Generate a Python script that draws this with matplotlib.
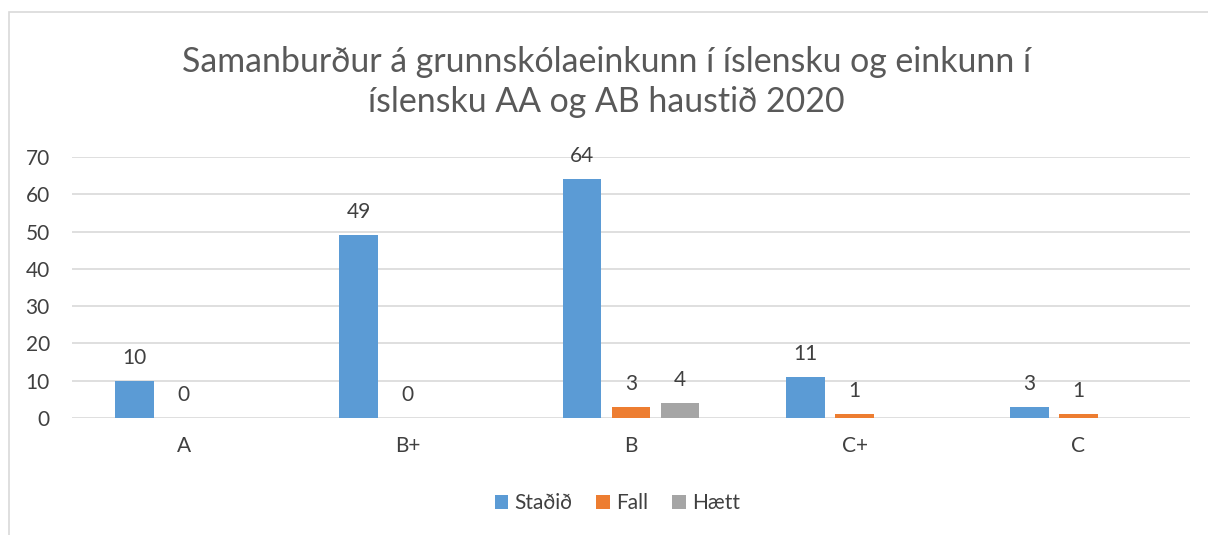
import numpy as np
import matplotlib
matplotlib.use('Agg')
import matplotlib.pyplot as plt
from matplotlib.patches import Rectangle

plt.rcParams['font.family'] = ['Lato', 'DejaVu Sans']

categories = ['A', 'B+', 'B', 'C+', 'C']
stadid = [10, 49, 64, 11, 3]
fall = [0, 0, 3, 1, 1]
haett = [np.nan, np.nan, 4, np.nan, np.nan]
series_names = ['Staðið', 'Fall', 'Hætt']
colors = ['#5B9BD5', '#ED7D31', '#A5A5A5']
title = 'Samanburður á grunnskólaeinkunn í íslensku og einkunn í\níslensku AA og AB haustið 2020'

W, H = 1208, 535
fig = plt.figure(figsize=(W / 100, H / 100), dpi=100)
fig.patches.append(Rectangle((9 / W, -0.1), 1.2, (H - 12) / H + 0.1,
                             transform=fig.transFigure, fill=False,
                             edgecolor='#D9D9D9', linewidth=1.2))

ax = fig.add_axes([72 / W, 117 / H, (1190 - 72) / W, (418 - 157) / H])

x = np.arange(len(categories))
width = 0.174
step = 0.219
txt = '#404040'
fs = 15
for i, (vals, name, c) in enumerate(zip([stadid, fall, haett], series_names, colors)):
    bars = ax.bar(x + (i - 1) * step, vals, width, color=c, label=name, zorder=3)
    labels = ['' if np.isnan(v) else f'{v:g}' for v in np.asarray(vals, float)]
    ax.bar_label(bars, labels=labels, padding=9.5, fontsize=fs, color=txt)

ax.set_xlim(-0.5, len(categories) - 0.5)
ax.set_ylim(0, 70)
ax.set_yticks(range(0, 71, 10))
ax.set_xticks(x)
ax.set_xticklabels(categories)
ax.grid(axis='y', color='#D9D9D9', linewidth=1.2, zorder=0)
for s in ax.spines.values():
    s.set_visible(False)
ax.tick_params(length=0, labelsize=fs, labelcolor=txt)
ax.tick_params(axis='x', pad=13)
ax.tick_params(axis='y', pad=16)

fig.text(0.502, 1 - 82 / H, title, ha='center', va='center', fontsize=24.4,
         color='#595959', linespacing=1.3)

fig.legend(loc='center', bbox_to_anchor=(0.511, 1 - 503 / H), ncol=3, frameon=False,
           fontsize=fs, labelcolor=txt, handlelength=0.65, handleheight=0.65,
           handletextpad=0.3, columnspacing=1.15)

fig.savefig('out.png', dpi=100)
